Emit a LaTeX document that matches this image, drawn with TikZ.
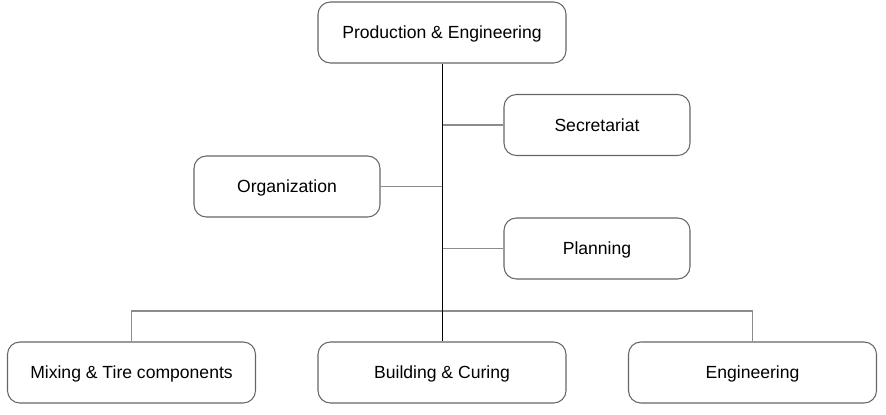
\documentclass[tikz,border=0pt]{standalone}
\usepackage{fontspec}
\setmainfont{Liberation Sans}
\usetikzlibrary{positioning}

\begin{document}
\begin{tikzpicture}[
    unitbox/.style={rectangle, rounded corners=7pt, draw=black!60, line width=0.6pt, fill=white, align=center, font=\fontsize{10}{12}\selectfont, minimum width=4.96cm, minimum height=1.22cm, inner sep=0pt, text depth=0pt},
    subbox/.style={unitbox, minimum width=3.72cm},
    trunk/.style={black, line width=0.5pt},
    branch/.style={black!45, line width=0.8pt}]

    \useasboundingbox (0,0) rectangle (17.72,-8.28);

    % Head
    \node[unitbox] (prod) at (8.84, -0.65) {Production \& Engineering};

    % Staff units
    \node[subbox] (sec) at (11.94, -2.50) {Secretariat};
    \node[subbox] (org) at (5.74, -3.73) {Organization};
    \node[subbox] (plan) at (11.94, -4.97) {Planning};

    % Departments
    \node[unitbox] (mix) at (2.63, -7.45) {Mixing \& Tire components};
    \node[unitbox] (build) at (8.84, -7.45) {Building \& Curing};
    \node[unitbox] (eng) at (15.05, -7.45) {Engineering};

    % Bus
    \coordinate (bus) at (8.84, -6.22);

    % Lines
    \draw[branch] (sec.west) -- (sec.west -| prod.south);
    \draw[branch] (org.east) -- (org.east -| prod.south);
    \draw[branch] (plan.west) -- (plan.west -| prod.south);
    \draw[branch] (mix.north) |- (bus) -| (eng.north);
    \draw[trunk] (prod.south) -- (build.north);

\end{tikzpicture}
\end{document}
